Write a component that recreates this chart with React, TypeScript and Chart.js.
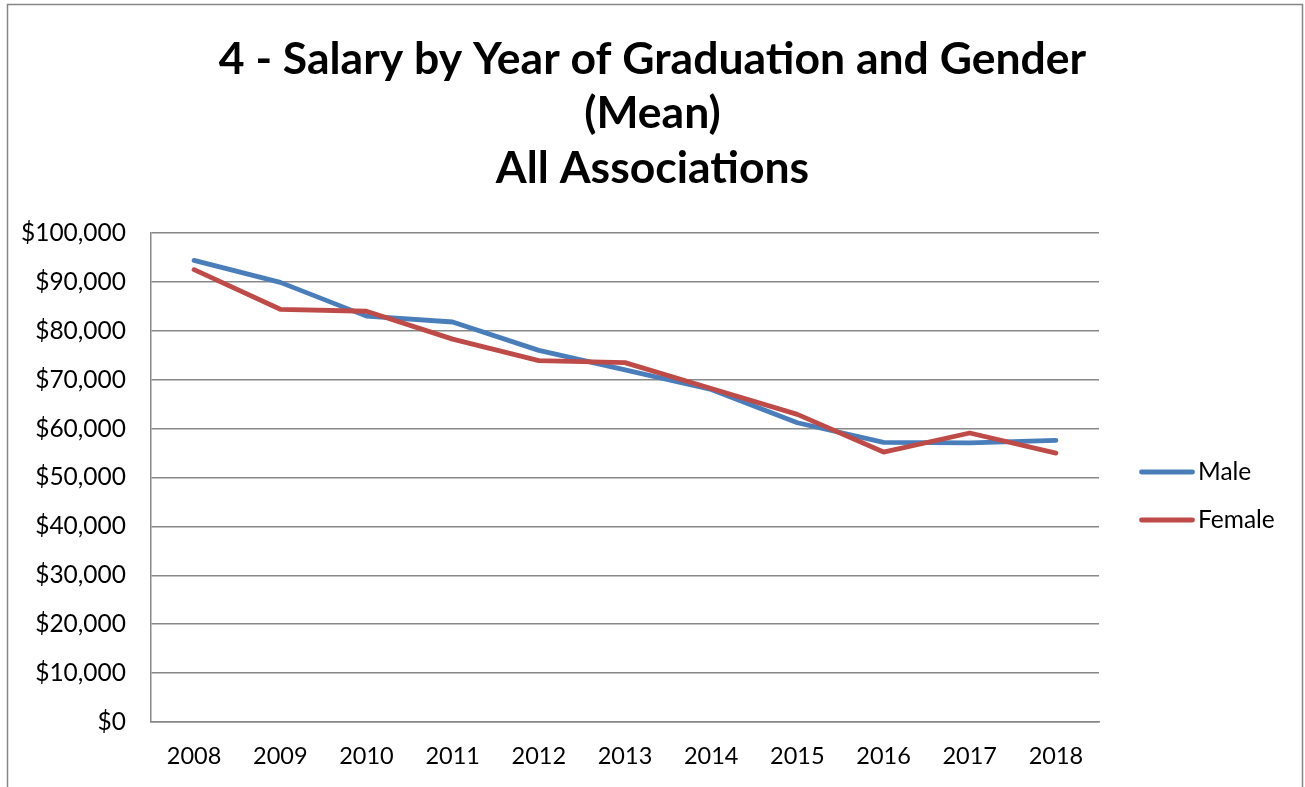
import React, { useEffect, useRef } from 'react';
import { Chart, registerables } from 'chart.js';

Chart.register(...registerables);

const years = ['2008', '2009', '2010', '2011', '2012', '2013', '2014', '2015', '2016', '2017', '2018'];
const maleSalary = [94400, 89900, 83000, 81800, 76000, 72000, 68000, 61200, 57200, 57100, 57600];
const femaleSalary = [92500, 84400, 84000, 78300, 73900, 73500, 68200, 62900, 55200, 59100, 55000];
const seriesNames = ['Male', 'Female'];
const seriesColors = ['#4A7EBB', '#BE4B48'];
const titleLines = ['4 - Salary by Year of Graduation and Gender', '(Mean)', 'All Associations'];
const yMin = 0;
const yMax = 100000;
const yStep = 10000;

const FONT = "Lato, 'Open Sans', sans-serif";
const TITLE_SIZE = 44.5;

const frameBorder = {
  id: 'frameBorder',
  beforeDraw(chart: any) {
    const { ctx } = chart;
    ctx.save();
    ctx.strokeStyle = '#868686';
    ctx.lineWidth = 1.5;
    ctx.strokeRect(7.5, 4.5, 1295, 1000);
    ctx.restore();
  },
};

const sideLegend = {
  id: 'sideLegend',
  afterDraw(chart: any) {
    const { ctx, chartArea } = chart;
    ctx.save();
    chart.data.datasets.forEach((ds: any, i: number) => {
      const y = 472 + i * 48;
      const x0 = chartArea.right + 42.5;
      ctx.strokeStyle = ds.borderColor;
      ctx.lineWidth = 4.8;
      ctx.lineCap = 'round';
      ctx.beginPath();
      ctx.moveTo(x0, y);
      ctx.lineTo(x0 + 51, y);
      ctx.stroke();
      ctx.fillStyle = '#000';
      ctx.font = `24.5px ${FONT}`;
      ctx.textBaseline = 'middle';
      ctx.textAlign = 'left';
      ctx.fillText(ds.label, x0 + 56.5, y);
    });
    ctx.restore();
  },
};

export default function App() {
  const ref = useRef<HTMLCanvasElement | null>(null);

  useEffect(() => {
    if (!ref.current) return;
    const chart = new Chart(ref.current, {
      type: 'line',
      data: {
        labels: years,
        datasets: [
          {
            label: seriesNames[0],
            data: maleSalary,
            borderColor: seriesColors[0],
            backgroundColor: seriesColors[0],
            borderWidth: 4.8,
            pointRadius: 0,
            tension: 0,
            borderCapStyle: 'round',
            borderJoinStyle: 'round',
            order: 1,
          },
          {
            label: seriesNames[1],
            data: femaleSalary,
            borderColor: seriesColors[1],
            backgroundColor: seriesColors[1],
            borderWidth: 4.8,
            pointRadius: 0,
            tension: 0,
            borderCapStyle: 'round',
            borderJoinStyle: 'round',
            order: 0,
          },
        ],
      },
      options: {
        animation: false,
        responsive: true,
        maintainAspectRatio: false,
        layout: { padding: 0 },
        plugins: {
          legend: { display: false },
          tooltip: { enabled: false },
          title: {
            display: true,
            text: titleLines,
            color: '#000',
            font: { family: FONT, size: TITLE_SIZE, weight: 'bold', lineHeight: 54.5 / TITLE_SIZE },
            padding: { top: 32, bottom: 37.5 },
          },
        },
        scales: {
          x: {
            type: 'category',
            offset: true,
            grid: { display: false, drawTicks: false },
            border: { display: true, color: '#888', width: 1.5 },
            ticks: { color: '#000', font: { family: FONT, size: 23.5 }, padding: 20, maxRotation: 0 },
            afterFit: (scale: any) => { scale.height = 65; },
          },
          y: {
            min: yMin,
            max: yMax,
            grid: { color: '#888', lineWidth: 1.5, drawTicks: false },
            border: { display: true, color: '#888', width: 1.5 },
            ticks: {
              stepSize: yStep,
              color: '#000',
              font: { family: FONT, size: 24.5 },
              padding: 25,
              callback: (v: any) => '$' + Number(v).toLocaleString('en-US'),
            },
            afterFit: (scale: any) => { scale.width = 151; },
          },
          legendSpace: {
            type: 'linear',
            position: 'right',
            display: true,
            grid: { display: false, drawTicks: false },
            border: { display: false },
            ticks: { display: false },
            afterFit: (scale: any) => { scale.width = 206; },
          },
        },
      },
      plugins: [frameBorder, sideLegend],
    });
    return () => chart.destroy();
  }, []);

  return (
    <div style={{ position: 'fixed', left: 0, top: 0, width: 1305, height: 787, background: '#fff' }}>
      <canvas ref={ref} />
    </div>
  );
}
